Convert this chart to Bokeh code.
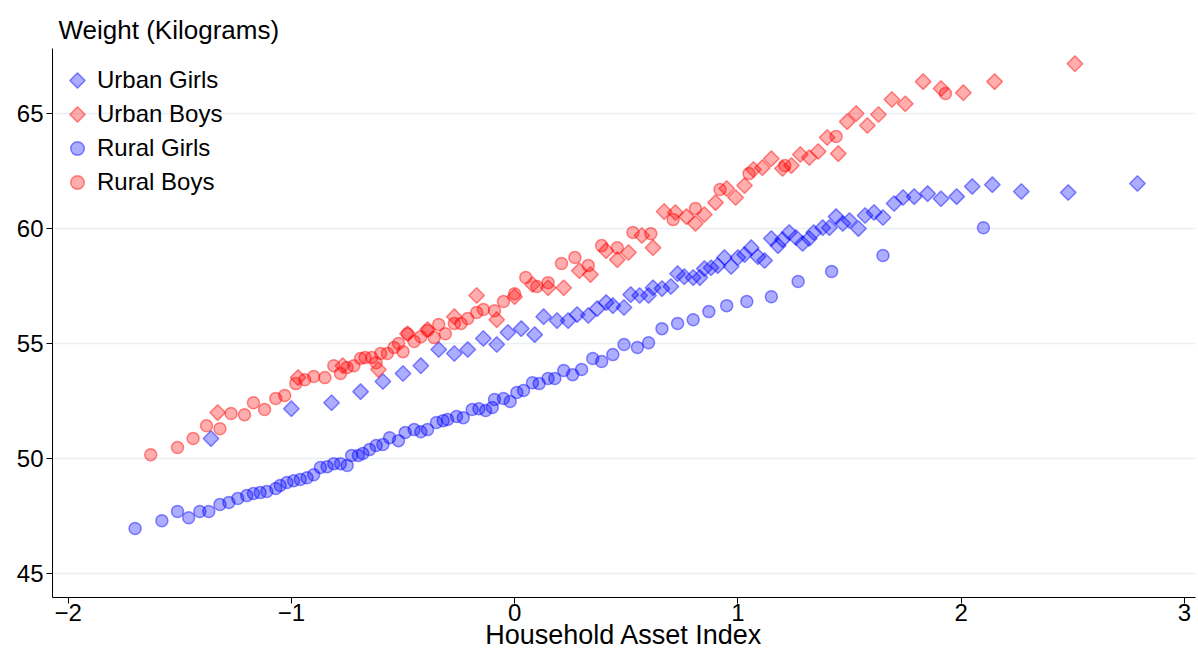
import numpy as np
from bokeh.plotting import figure
from bokeh.models import Range1d, Legend, LegendItem, FixedTicker, CustomJS
from bokeh.embed import file_html
from bokeh.resources import INLINE

# ---------------- data ----------------
rural_girls_x = [-1.70, -1.58, -1.51, -1.46, -1.41, -1.37, -1.32, -1.28, -1.24, -1.20, -1.17, -1.14, -1.11,
                 -1.07, -1.05, -1.02, -0.99, -0.96, -0.93, -0.90, -0.87, -0.84, -0.81, -0.78, -0.75, -0.73,
                 -0.70, -0.68, -0.65, -0.62, -0.59, -0.56, -0.52, -0.49, -0.45, -0.42, -0.39, -0.35, -0.32,
                 -0.30, -0.26, -0.23, -0.19, -0.16, -0.13, -0.10, -0.09, -0.05, -0.02, 0.01, 0.04, 0.08, 0.11,
                 0.15, 0.18, 0.22, 0.26, 0.30, 0.35, 0.39, 0.44, 0.49, 0.55, 0.60, 0.66, 0.73, 0.80, 0.87,
                 0.95, 1.04, 1.15, 1.27, 1.42, 1.65, 2.10]
rural_girls_y = [46.96, 47.30, 47.70, 47.43, 47.70, 47.70, 48.00, 48.09, 48.26, 48.39, 48.48, 48.52, 48.57,
                 48.70, 48.83, 48.96, 49.04, 49.09, 49.17, 49.30, 49.61, 49.65, 49.78, 49.78, 49.70, 50.13,
                 50.13, 50.22, 50.39, 50.57, 50.61, 50.91, 50.78, 51.13, 51.26, 51.17, 51.26, 51.57, 51.65,
                 51.70, 51.83, 51.78, 52.13, 52.17, 52.09, 52.22, 52.57, 52.61, 52.48, 52.87, 52.96, 53.30,
                 53.26, 53.48, 53.48, 53.83, 53.65, 53.87, 54.35, 54.22, 54.52, 54.96, 54.83, 55.04, 55.65,
                 55.87, 56.04, 56.39, 56.65, 56.83, 57.04, 57.70, 58.13, 58.83, 60.04]

rural_boys_x = [-1.63, -1.51, -1.44, -1.38, -1.32, -1.27, -1.21, -1.17, -1.12, -1.07, -1.03, -0.98, -0.94,
                -0.90, -0.85, -0.81, -0.78, -0.75, -0.72, -0.69, -0.67, -0.64, -0.62, -0.60, -0.57, -0.54,
                -0.52, -0.50, -0.48, -0.45, -0.42, -0.39, -0.36, -0.34, -0.31, -0.27, -0.24, -0.21, -0.17,
                -0.14, -0.09, -0.05, 0.00, 0.05, 0.10, 0.15, 0.21, 0.27, 0.33, 0.39, 0.46, 0.53, 0.61, 0.71,
                0.81, 0.92, 1.05, 1.21, 1.44, 1.93]
rural_boys_y = [50.17, 50.48, 50.87, 51.43, 51.30, 51.96, 51.91, 52.43, 52.13, 52.61, 52.74, 53.26, 53.43,
                53.57, 53.52, 54.04, 53.70, 53.96, 54.04, 54.35, 54.39, 54.39, 54.17, 54.57, 54.57, 54.83,
                55.00, 54.65, 55.43, 55.09, 55.30, 55.57, 55.26, 55.83, 55.43, 55.87, 55.87, 56.09, 56.35,
                56.48, 56.43, 56.83, 57.17, 57.87, 57.48, 57.65, 58.48, 58.74, 58.39, 59.26, 59.17, 59.83,
                59.78, 60.39, 60.87, 61.70, 62.39, 62.74, 64.00, 65.87]

urban_girls_x = [-1.36, -1.00, -0.82, -0.69, -0.59, -0.50, -0.42, -0.34, -0.27, -0.21, -0.14, -0.08, -0.03,
                 0.03, 0.09, 0.13, 0.19, 0.24, 0.28, 0.33, 0.37, 0.41, 0.44, 0.49, 0.52, 0.56, 0.60, 0.62,
                 0.66, 0.70, 0.73, 0.76, 0.80, 0.83, 0.85, 0.88, 0.91, 0.94, 0.97, 1.00, 1.03, 1.06, 1.09,
                 1.12, 1.15, 1.18, 1.20, 1.23, 1.26, 1.29, 1.32, 1.34, 1.38, 1.41, 1.44, 1.47, 1.50, 1.54,
                 1.57, 1.61, 1.65, 1.70, 1.74, 1.79, 1.85, 1.91, 1.98, 2.05, 2.14, 2.27, 2.48, 2.79]
urban_girls_y = [50.87, 52.17, 52.43, 52.91, 53.35, 53.70, 54.04, 54.74, 54.57, 54.74, 55.22, 54.96, 55.48,
                 55.65, 55.39, 56.17, 56.00, 56.00, 56.26, 56.22, 56.52, 56.78, 56.65, 56.57, 57.13, 57.09,
                 57.09, 57.43, 57.39, 57.48, 58.04, 57.91, 57.87, 57.87, 58.26, 58.30, 58.39, 58.74, 58.35,
                 58.74, 58.87, 59.17, 58.78, 58.61, 59.57, 59.26, 59.52, 59.83, 59.61, 59.35, 59.57, 59.83,
                 60.04, 60.04, 60.52, 60.22, 60.35, 60.00, 60.57, 60.70, 60.48, 61.09, 61.35, 61.39, 61.52,
                 61.30, 61.39, 61.83, 61.91, 61.61, 61.57, 61.96]

urban_boys_x = [-1.33, -0.97, -0.77, -0.61, -0.48, -0.39, -0.27, -0.17, -0.08, 0.00, 0.08, 0.15, 0.22, 0.29,
                0.34, 0.41, 0.46, 0.51, 0.57, 0.62, 0.67, 0.72, 0.77, 0.81, 0.85, 0.90, 0.95, 0.99, 1.03,
                1.07, 1.11, 1.15, 1.20, 1.24, 1.28, 1.32, 1.36, 1.40, 1.45, 1.49, 1.53, 1.58, 1.63, 1.69,
                1.75, 1.83, 1.91, 2.01, 2.15, 2.51]
urban_boys_y = [52.00, 53.52, 54.04, 53.87, 55.43, 55.61, 56.17, 57.09, 56.04, 57.04, 57.57, 57.43, 57.43,
                58.17, 58.00, 59.04, 58.65, 58.96, 59.70, 59.17, 60.74, 60.70, 60.52, 60.22, 60.61, 61.13,
                61.74, 61.35, 61.87, 62.57, 62.65, 63.04, 62.61, 62.74, 63.22, 63.09, 63.35, 63.96, 63.26,
                64.65, 65.00, 64.48, 64.96, 65.61, 65.43, 66.39, 66.09, 65.91, 66.39, 67.17]

y_ticks = [45, 50, 55, 60, 65]
x_ticks = [-2, -1, 0, 1, 2, 3]

FONT = "Liberation Sans"
BLUE = "#0000ff"
RED = "#ff0000"

p = figure(width=1198, height=654, output_backend="svg", toolbar_location=None,
           x_range=Range1d(-2.07, 3.05), y_range=Range1d(43.96, 67.83),
           min_border_left=52, min_border_right=3, min_border_bottom=57, min_border_top=48)

p.title.text = "Weight (Kilograms)"
p.title.text_font = FONT
p.title.text_font_size = "26px"
p.title.text_font_style = "normal"
p.title.text_color = "black"
p.title.align = "left"
p.title.offset = 6
p.title.standoff = 8

p.outline_line_color = None
p.background_fill_color = "white"
p.border_fill_color = "white"

# grids
p.xgrid.grid_line_color = None
p.ygrid.grid_line_color = "#e8eff2"
p.ygrid.grid_line_width = 1.5
p.ygrid.ticker = FixedTicker(ticks=y_ticks)

for ax in (p.xaxis[0], p.yaxis[0]):
    ax.axis_line_color = "black"
    ax.axis_line_width = 1
    ax.major_tick_line_color = "black"
    ax.major_tick_out = 6
    ax.major_tick_in = 0
    ax.minor_tick_line_color = None
    ax.major_label_text_font = FONT
    ax.major_label_text_font_size = "24px"
    ax.major_label_text_color = "black"

p.xaxis.ticker = FixedTicker(ticks=x_ticks)
p.yaxis.ticker = FixedTicker(ticks=y_ticks)
p.xaxis.major_label_standoff = 0
p.yaxis.major_label_standoff = 3
p.xaxis.axis_label = "Household Asset Index"
p.xaxis.axis_label_text_font = FONT
p.xaxis.axis_label_text_font_size = "27px"
p.xaxis.axis_label_text_font_style = "normal"
p.xaxis.axis_label_text_color = "black"
p.xaxis.axis_label_standoff = -4

common_c = dict(size=12, line_width=1.5, fill_alpha=0.32, line_alpha=0.45)
common_d = dict(size=11, line_width=1.5, fill_alpha=0.32, line_alpha=0.45, angle=np.pi / 4)

p.scatter(urban_girls_x, urban_girls_y, marker="square", fill_color=BLUE, line_color=BLUE, **common_d)
p.scatter(urban_boys_x, urban_boys_y, marker="square", fill_color=RED, line_color=RED, **common_d)
r_rg = p.scatter(rural_girls_x, rural_girls_y, marker="circle", fill_color=BLUE, line_color=BLUE, **common_c)
r_rb = p.scatter(rural_boys_x, rural_boys_y, marker="circle", fill_color=RED, line_color=RED, **common_c)

# legend-only (hidden) glyphs for the diamond series: a custom square-diamond marker drawn on the context
sq_diamond = CustomJS(code="""
export default (args, obj, data) => {
  try {
    const {ctx, i, visuals} = data
    const r = data.r * 1.12
    ctx.beginPath()
    ctx.moveTo(0, -r)
    ctx.lineTo(r, 0)
    ctx.lineTo(0, r)
    ctx.lineTo(-r, 0)
    ctx.closePath()
    const f = visuals.fill
    const l = visuals.line
    if (f.doit) { f.set_vectorize(ctx, i); ctx.fill() }
    if (l.doit) { l.set_vectorize(ctx, i); ctx.stroke() }
  } catch (e) {}
}
""")
leg_d = dict(line_width=1.5, fill_alpha=0.32, line_alpha=0.45)
r_ug_leg = p.scatter(urban_girls_x, urban_girls_y, marker="@sqdiamond", defs={"@sqdiamond": sq_diamond},
                     fill_color=BLUE, line_color=BLUE, **leg_d)
r_ub_leg = p.scatter(urban_boys_x, urban_boys_y, marker="@sqdiamond", defs={"@sqdiamond": sq_diamond},
                     fill_color=RED, line_color=RED, **leg_d)
r_ug_leg.visible = False
r_ub_leg.visible = False

legend = Legend(items=[LegendItem(label="Urban Girls", renderers=[r_ug_leg]),
                       LegendItem(label="Urban Boys", renderers=[r_ub_leg]),
                       LegendItem(label="Rural Girls", renderers=[r_rg]),
                       LegendItem(label="Rural Boys", renderers=[r_rb])])
legend.border_line_color = None
legend.background_fill_alpha = 0
legend.label_text_font = FONT
legend.label_text_font_size = "24px"
legend.label_text_color = "black"
legend.glyph_width = 34
legend.glyph_height = 34
legend.label_height = 34
legend.spacing = 0
legend.label_standoff = 3
legend.margin = 0
legend.padding = 0
legend.location = (8, 398)
p.add_layout(legend)

open("out.html", "w").write(file_html(p, INLINE))
